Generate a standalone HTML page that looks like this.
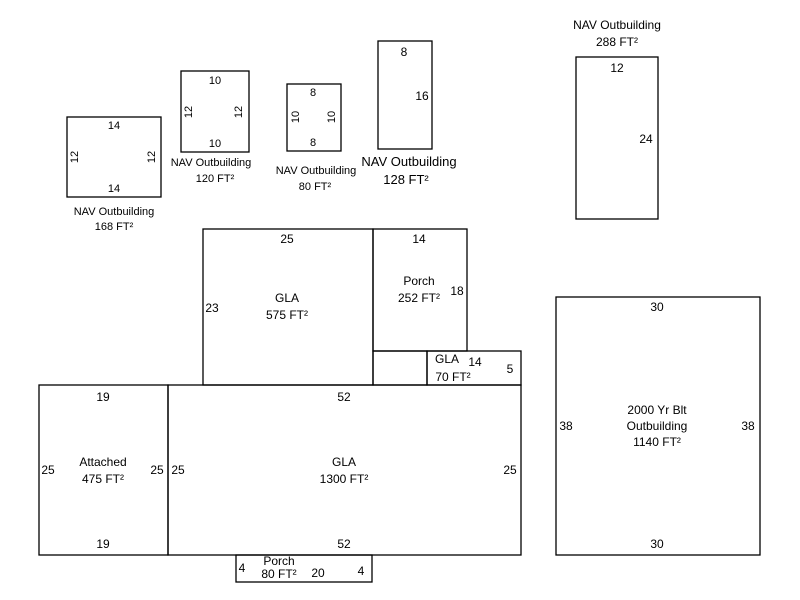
<!DOCTYPE html>
<html><head><style>body{margin:0;background:#fff}svg{display:block}text{font-family:"Liberation Sans",Arial,sans-serif;fill:#000}</style></head><body>
<svg width="800" height="600" xmlns="http://www.w3.org/2000/svg">
<g fill="none" stroke="#000" stroke-width="1.3">
<rect x="67" y="117" width="94" height="80"/>
<rect x="181" y="71" width="68" height="81"/>
<rect x="287" y="84" width="54" height="67"/>
<rect x="378" y="41" width="54" height="108"/>
<rect x="576" y="57" width="82" height="162"/>
<rect x="203" y="229" width="170" height="156"/>
<rect x="373" y="229" width="94" height="122"/>
<rect x="373" y="351" width="54" height="34"/>
<rect x="427" y="351" width="94" height="34"/>
<rect x="168" y="385" width="353" height="170"/>
<rect x="39" y="385" width="129" height="170"/>
<rect x="236" y="555" width="136" height="27"/>
<rect x="556" y="297" width="204" height="258"/>
</g>
<g font-size="11" text-anchor="middle">
<text x="114" y="129">14</text><text x="114" y="192">14</text>
<text transform="translate(78,157) rotate(-90)">12</text>
<text transform="translate(155,157) rotate(-90)">12</text>
<text x="114" y="215">NAV Outbuilding</text><text x="114" y="230">168 FT²</text>
<text x="215" y="84">10</text><text x="215" y="147">10</text>
<text transform="translate(192,112) rotate(-90)">12</text>
<text transform="translate(242,112) rotate(-90)">12</text>
<text x="211" y="166">NAV Outbuilding</text><text x="215" y="182">120 FT²</text>
<text x="313" y="96">8</text><text x="313" y="146">8</text>
<text transform="translate(299,117) rotate(-90)">10</text>
<text transform="translate(335,117) rotate(-90)">10</text>
<text x="316" y="174">NAV Outbuilding</text><text x="315" y="190">80 FT²</text>
</g>
<g font-size="12" text-anchor="middle">
<text x="404" y="56">8</text><text x="422" y="100">16</text>
<text x="617" y="29">NAV Outbuilding</text><text x="617" y="46">288 FT²</text>
<text x="617" y="72">12</text><text x="646" y="143">24</text>
<text x="287" y="243">25</text><text x="212" y="312">23</text>
<text x="287" y="302">GLA</text><text x="287" y="319">575 FT²</text>
<text x="419" y="243">14</text><text x="457" y="295">18</text>
<text x="419" y="285">Porch</text><text x="419" y="302">252 FT²</text>
<text x="447" y="363">GLA</text><text x="453" y="381">70 FT²</text>
<text x="475" y="366">14</text><text x="510" y="373">5</text>
<text x="344" y="401">52</text><text x="344" y="548">52</text>
<text x="178" y="474">25</text><text x="510" y="474">25</text>
<text x="344" y="466">GLA</text><text x="344" y="483">1300 FT²</text>
<text x="103" y="401">19</text><text x="103" y="548">19</text>
<text x="48" y="474">25</text><text x="157" y="474">25</text>
<text x="103" y="466">Attached</text><text x="103" y="483">475 FT²</text>
<text x="242" y="572">4</text><text x="361" y="575">4</text><text x="318" y="577">20</text>
<text x="279" y="565">Porch</text><text x="279" y="578">80 FT²</text>
<text x="657" y="311">30</text><text x="657" y="548">30</text>
<text x="566" y="430">38</text><text x="748" y="430">38</text>
<text x="657" y="414">2000 Yr Blt</text><text x="657" y="430">Outbuilding</text><text x="657" y="446">1140 FT²</text>
</g>
<text x="409" y="166" font-size="13" text-anchor="middle">NAV Outbuilding</text>
<text x="406" y="184" font-size="13" text-anchor="middle">128 FT²</text>
</svg>
</body></html>
